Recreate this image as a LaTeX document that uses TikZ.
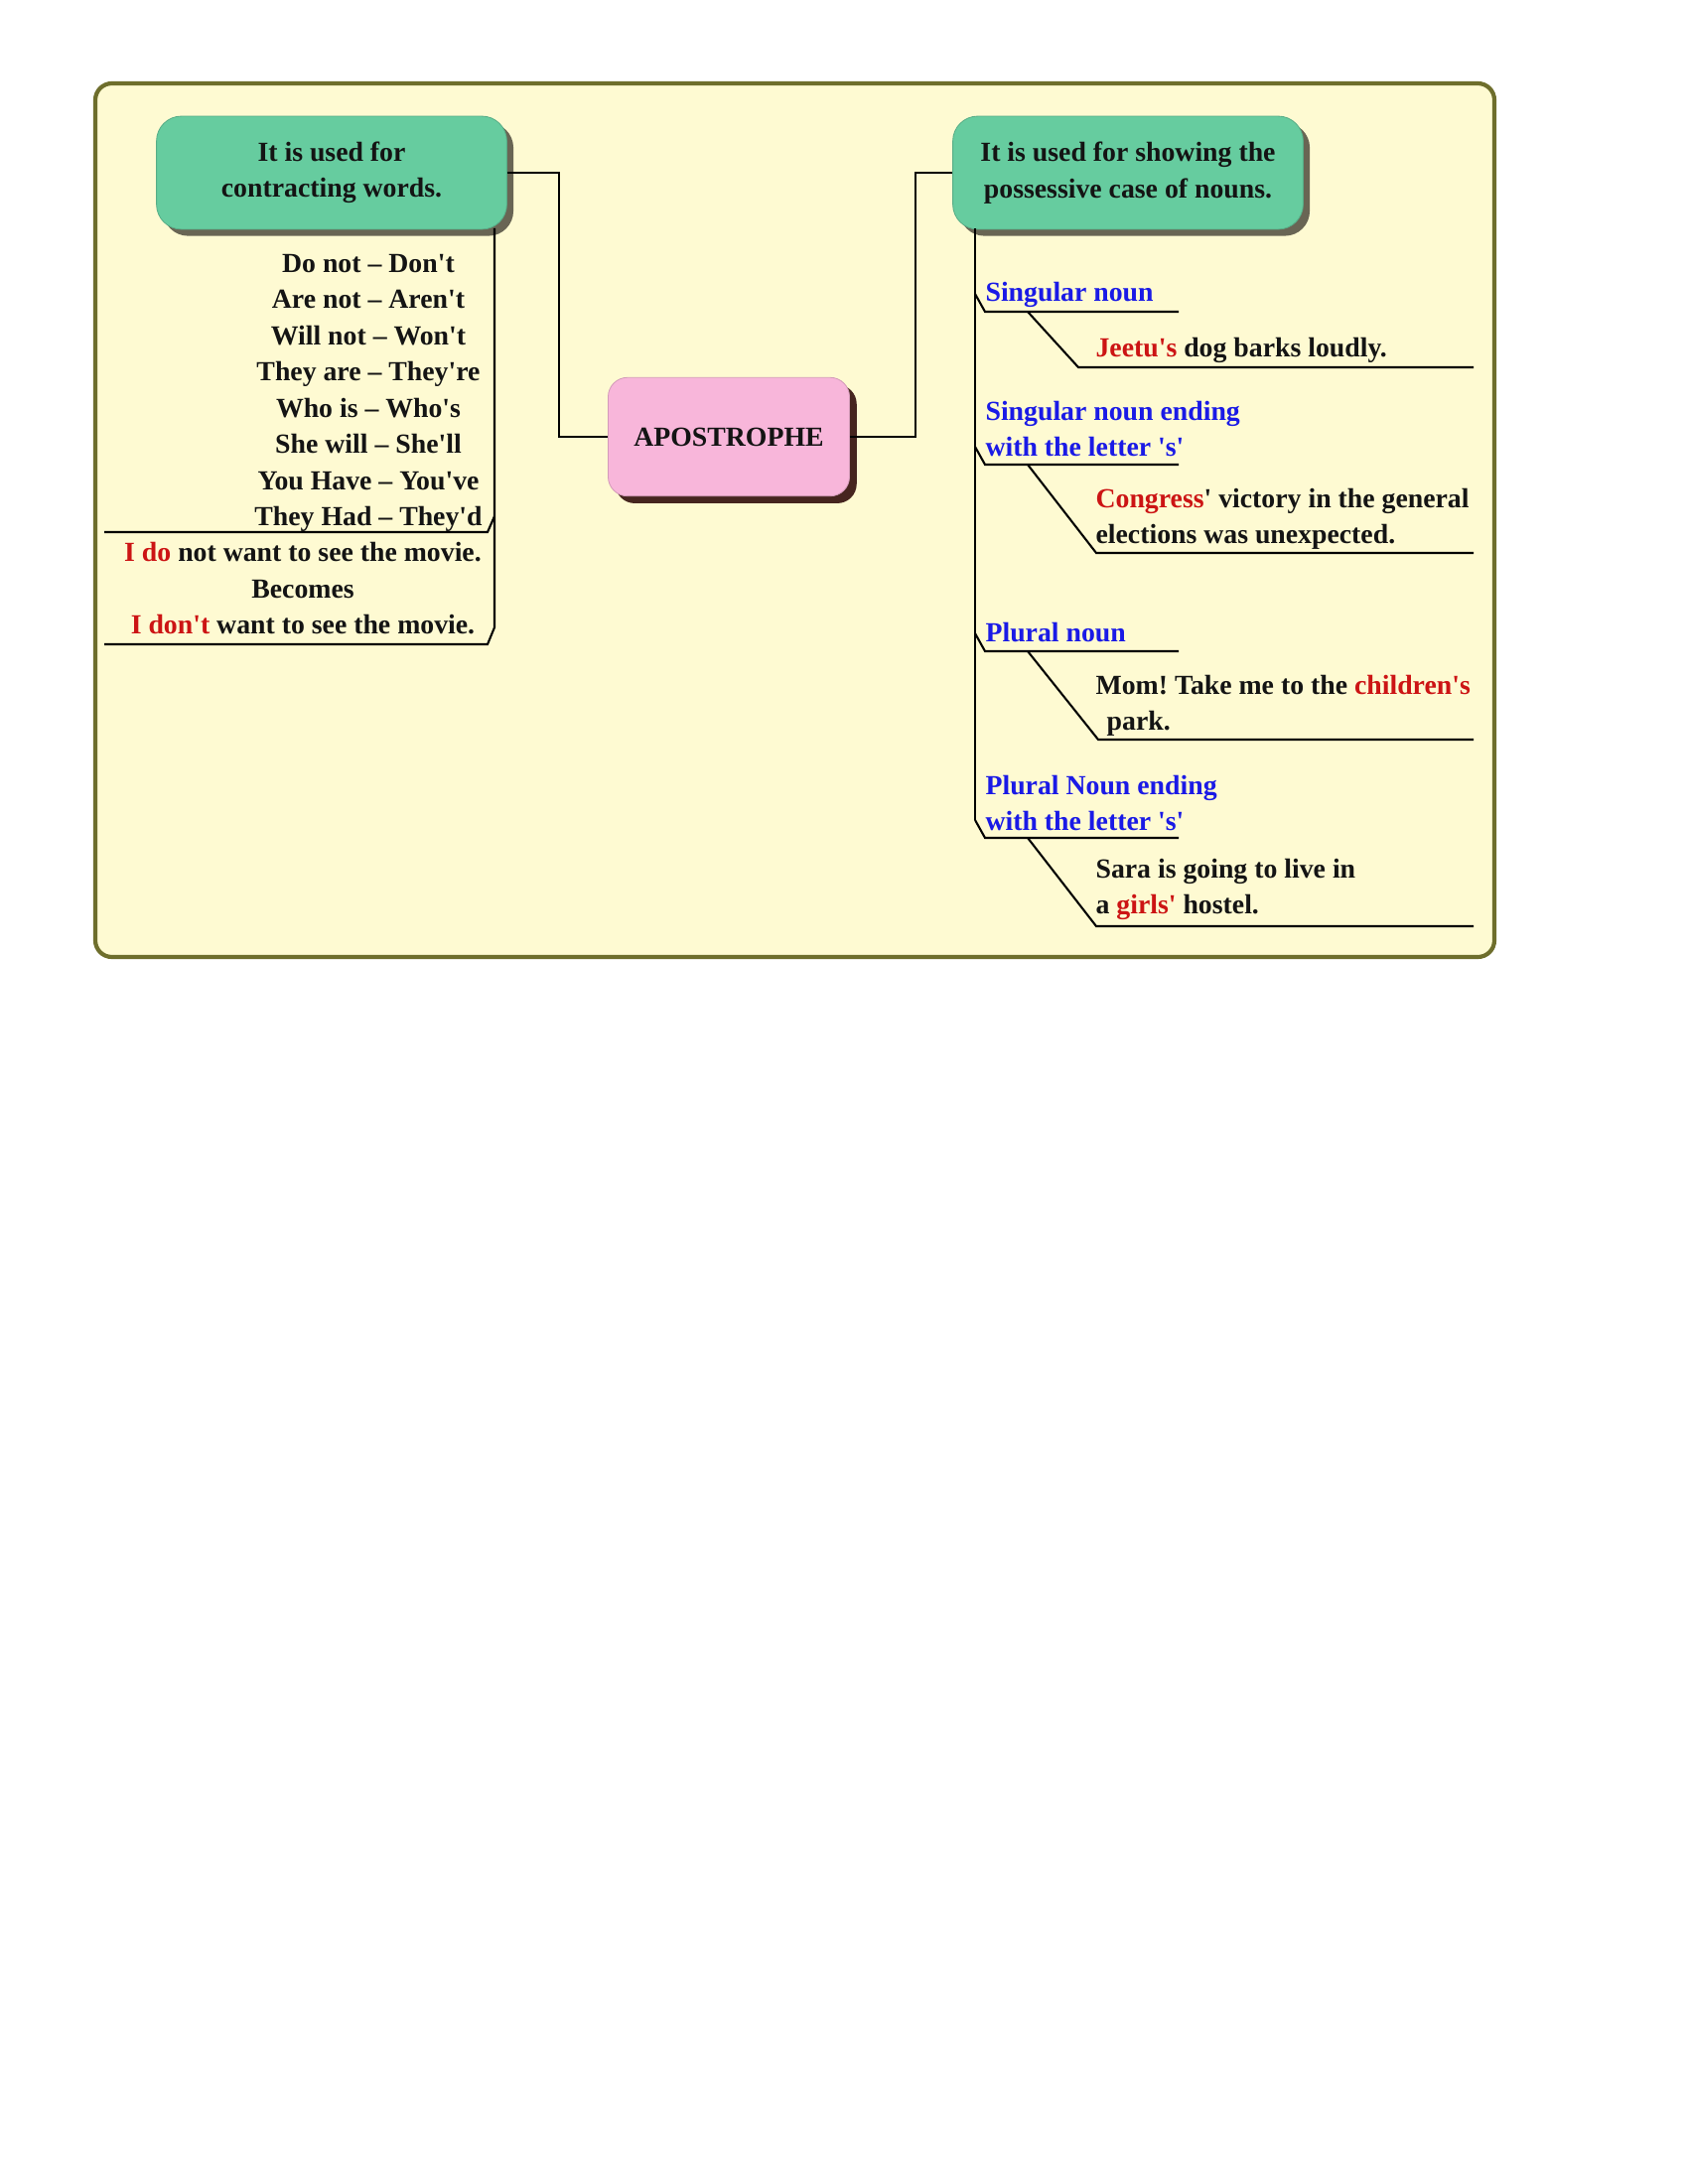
\documentclass[tikz,border=0pt]{standalone}
\usepackage{fontspec}
\setmainfont{Liberation Serif}[Ligatures=TeXOff]
\usetikzlibrary{shadows}
\definecolor{bgyel}{HTML}{FEFAD2}
\definecolor{framec}{HTML}{6E6E2C}
\definecolor{boxgreen}{HTML}{66CC9F}
\definecolor{boxpink}{HTML}{F8B6DA}
\definecolor{tblue}{HTML}{1A1AE6}
\definecolor{tred}{HTML}{CC1414}
\definecolor{tdark}{HTML}{141414}
\newcommand{\myfont}{\fontsize{10pt}{13.14pt}\selectfont\bfseries\frenchspacing}
\tikzset{
  gbox/.style={draw=boxgreen!85!black, line width=0.3pt, fill=boxgreen, rounded corners=9pt,
    minimum width=127pt, minimum height=41pt, align=center, text=tdark,
    font=\myfont, inner sep=0pt,
    drop shadow={shadow xshift=2.4pt, shadow yshift=-2.4pt, fill=black!80!olive, opacity=0.75}},
  pbox/.style={draw=boxpink!85!black, line width=0.3pt, fill=boxpink, rounded corners=7pt,
    minimum width=87.5pt, minimum height=43pt, align=center, text=tdark,
    font=\myfont, inner sep=0pt,
    drop shadow={shadow xshift=2.6pt, shadow yshift=-2.6pt, fill=black!85!red, opacity=0.85}},
  txt/.style={font=\myfont, text=tdark, inner sep=0pt},
  bl/.style={font=\myfont, text=tblue, inner sep=0pt, anchor=west, align=left},
  ex/.style={font=\myfont, text=tdark, inner sep=0pt, anchor=west, align=left},
  conn/.style={draw=black, line width=0.75pt},
}
\begin{document}
\begin{tikzpicture}[x=0.36pt,y=-0.36pt]
\useasboundingbox (0,0) rectangle (1700,2200);
\fill[white] (0,0) rectangle (1700,2200);
% frame
\draw[framec, line width=1.5pt, fill=bgyel, rounded corners=6pt] (96,84) rectangle (1505,964);

% main nodes
\node[gbox] (lg) at (334,174) {It is used for\\contracting words.};
\node[gbox] (rg) at (1136,174) {It is used for showing the\\possessive case of nouns.};
\node[pbox] (ap) at (734,440) {APOSTROPHE};

\draw[conn] (lg.east) -- ++(52,0) |- (ap.west);
\draw[conn] (ap.east) -- ++(66,0) |- (rg.west);

% left branch
\coordinate (lv0) at (498,230);
\coordinate (lv1) at (498,520);
\coordinate (lv2) at (498,632);
\coordinate (lu1a) at (491,536);
\coordinate (lu1b) at (105,536);
\coordinate (lu2a) at (491,649);
\coordinate (lu2b) at (105,649);
\draw[conn] (lv0) -- (lv2) -- (lu2a) -- (lu2b);
\draw[conn] (lv1) -- (lu1a) -- (lu1b);

\node[txt, align=center] (lt1) at (371,396) {Do not – Don't\\Are not – Aren't\\Will not – Won't\\They are – They're\\Who is – Who's\\She will – She'll\\You Have – You've\\They Had – They'd};
\node[txt, align=center] (lt2) at (305,593) {\textcolor{tred}{I do} not want to see the movie.\\Becomes\\\textcolor{tred}{I don't} want to see the movie.};

% right branch
\coordinate (rv0) at (982,230);
\draw[conn] (rv0) -- (982,826);
% item 1
\draw[conn] (982,296) -- (992,314) -- (1187,314);
\draw[conn] (1035,314) -- (1086,370) -- (1484,370);
\node[bl] (r1) at (992,297) {Singular noun};
\node[ex] (e1) at (1103,353) {\textcolor{tred}{Jeetu's} dog barks loudly.};
% item 2
\draw[conn] (982,450) -- (992,468) -- (1187,468);
\draw[conn] (1035,468) -- (1104,557) -- (1484,557);
\node[bl] (r2) at (992,432) {Singular noun ending\\with the letter 's'};
\node[ex] (e2) at (1103,523) {\textcolor{tred}{Congress}' victory in the general\\elections was unexpected.};
% item 3
\draw[conn] (982,638) -- (992,656) -- (1187,656);
\draw[conn] (1035,656) -- (1106,745) -- (1484,745);
\node[bl] (r3) at (992,637) {Plural noun};
\node[ex] (e3) at (1103,711) {Mom! Take me to the \textcolor{tred}{children's}\\\hspace{4pt}park.};
% item 4
\draw[conn] (982,826) -- (992,844) -- (1187,844);
\draw[conn] (1035,844) -- (1104,933) -- (1484,933);
\node[bl] (r4) at (992,809) {Plural Noun ending\\with the letter 's'};
\node[ex] (e4) at (1103,896) {Sara is going to live in\\a \textcolor{tred}{girls'} hostel.};
\end{tikzpicture}
\end{document}
